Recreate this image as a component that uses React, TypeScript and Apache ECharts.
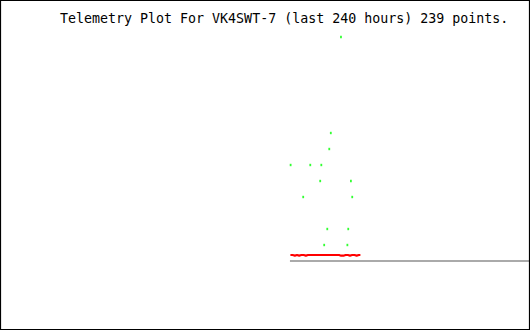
import React, { useEffect, useRef } from "react";
import * as echarts from "echarts";

const TITLE = "Telemetry Plot For VK4SWT-7 (last 240 hours) 239 points.";
const HOURS_SPAN = 240;
const Y_MAX = 16;

// Red channel: [hour, value]
const redSeries: [number, number][] = [
  [131.5, 0.375], [132.5, 0.375], [133.5, 0.34], [134.5, 0.375], [135.5, 0.34],
  [136.5, 0.375], [137.5, 0.375], [138.5, 0.34], [139.5, 0.375], [140.5, 0.375],
  [141.5, 0.375], [142.5, 0.375], [143.5, 0.375], [144.5, 0.375], [145.5, 0.375],
  [146.5, 0.375], [147.5, 0.375], [148.5, 0.375], [149.5, 0.375], [150.5, 0.375],
  [151.5, 0.375], [152.5, 0.375], [153.5, 0.375], [154.5, 0.33], [155.5, 0.33],
  [156.5, 0.375], [157.5, 0.375], [158.5, 0.34], [159.5, 0.375], [160.5, 0.375],
  [161.5, 0.34], [162.5, 0.375], [163.2, 0.375],
];

// Green channel: [hour, value]
const greenSeries: [number, number][] = [
  [154.4, 14], [149.8, 8], [149.1, 7], [131.6, 6], [140.5, 6], [145.5, 6],
  [145.0, 5], [158.9, 5], [137.3, 4], [159.5, 4], [148.2, 2], [157.7, 2],
  [146.8, 1], [157.3, 1],
];

// Baseline (gray)
const baseline: [number, number][] = [[131.3, 0], [240, 0]];

export default function App() {
  const ref = useRef<HTMLDivElement>(null);
  useEffect(() => {
    document.body.style.margin = "0";
    if (!ref.current) return;
    const chart = echarts.init(ref.current, undefined, { renderer: "svg" });
    chart.setOption({
      animation: false,
      backgroundColor: "#ffffff",
      title: {
        text: TITLE,
        left: 60,
        top: 12,
        padding: 0,
        textStyle: {
          fontFamily: "DejaVu Sans Mono",
          fontSize: 13.3,
          fontWeight: "normal",
          color: "#000000",
        },
      },
      grid: { left: 0, right: 0, top: 5, bottom: 69 },
      xAxis: {
        type: "value",
        min: 0,
        max: HOURS_SPAN,
        show: false,
        splitLine: { show: false },
      },
      yAxis: {
        type: "value",
        min: 0,
        max: Y_MAX,
        show: false,
        splitLine: { show: false },
      },
      graphic: [
        {
          type: "rect",
          shape: { x: 0.5, y: 0.5, width: 529, height: 329 },
          style: { fill: "none", stroke: "#000000", lineWidth: 1.2 },
          z: 100,
        },
      ],
      series: [
        {
          type: "line",
          data: baseline,
          symbol: "none",
          lineStyle: { color: "#aaaaaa", width: 2 },
          z: 1,
          silent: true,
        },
        {
          type: "line",
          data: redSeries,
          symbol: "none",
          lineStyle: { color: "#ff0000", width: 2.2 },
          z: 2,
          silent: true,
        },
        {
          type: "scatter",
          data: greenSeries,
          symbol: "rect",
          symbolSize: [1.8, 2.4],
          itemStyle: { color: "#00ff00" },
          z: 3,
          silent: true,
        },
      ],
    });
    return () => chart.dispose();
  }, []);
  return <div ref={ref} style={{ width: 530, height: 330 }} />;
}
